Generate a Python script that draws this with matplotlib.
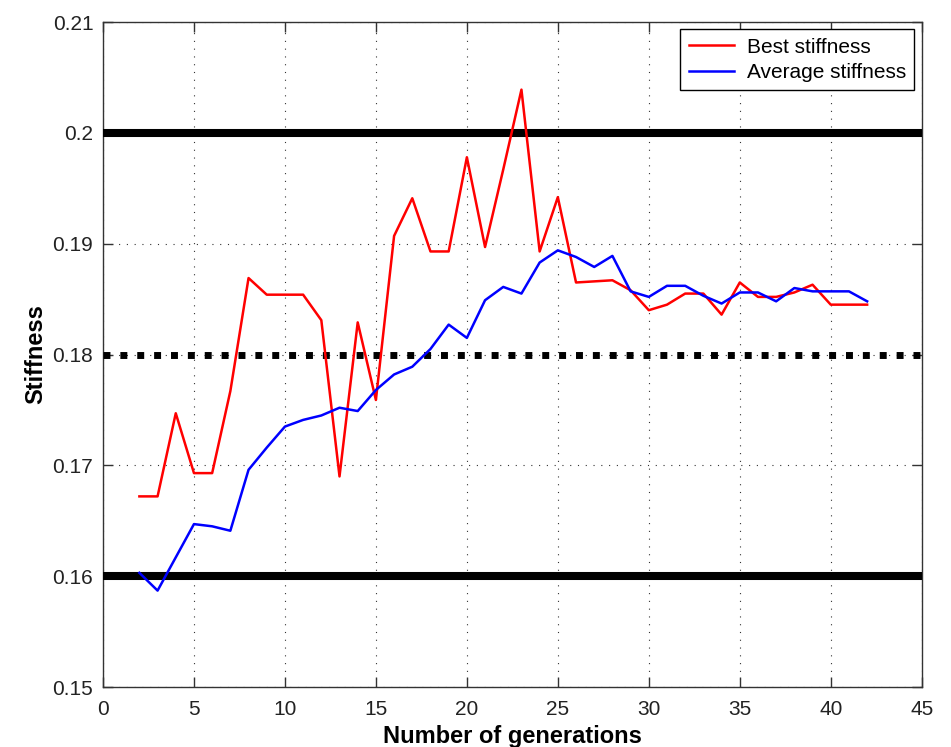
import matplotlib
matplotlib.use("Agg")
import matplotlib.pyplot as plt
from matplotlib.ticker import FuncFormatter

plt.rcParams["font.family"] = ["Liberation Sans", "DejaVu Sans"]

generations = list(range(2, 43))
best_stiffness = [
    0.1672, 0.1672, 0.1747, 0.1693, 0.1693, 0.1767, 0.1869, 0.1854, 0.1854, 0.1854,
    0.1831, 0.1690, 0.1829, 0.1759, 0.1907, 0.1941, 0.1893, 0.1893, 0.1978, 0.1897,
    0.1967, 0.2039, 0.1893, 0.1942, 0.1865, 0.1866, 0.1867, 0.1858, 0.1840, 0.1845,
    0.1855, 0.1855, 0.1836, 0.1865, 0.1852, 0.1852, 0.1856, 0.1863, 0.1845, 0.1845,
    0.1845,
]
avg_stiffness = [
    0.1603, 0.1587, 0.1617, 0.1647, 0.1645, 0.1641, 0.1696, 0.1716, 0.1735, 0.1741,
    0.1745, 0.1752, 0.1749, 0.1768, 0.1782, 0.1789, 0.1805, 0.1827, 0.1815, 0.1849,
    0.1861, 0.1855, 0.1883, 0.1894, 0.1888, 0.1879, 0.1889, 0.1857, 0.1852, 0.1862,
    0.1862, 0.1853, 0.1846, 0.1856, 0.1856, 0.1848, 0.1860, 0.1857, 0.1857, 0.1857,
    0.1848,
]
upper_limit = 0.20
target = 0.18
lower_limit = 0.16

fig = plt.figure(figsize=(9.51, 7.47), dpi=100)
ax = fig.add_axes([0.1083, 0.0803, 0.8609, 0.8902])

# limit lines
ax.plot([0, 45], [upper_limit, upper_limit], color="black", linewidth=5.8,
        solid_capstyle="butt", zorder=3)
ax.plot([0, 45], [lower_limit, lower_limit], color="black", linewidth=5.8,
        solid_capstyle="butt", zorder=3)
ax.plot([0, 45], [target, target], color="black", linewidth=5.0,
        linestyle=(0, (1, 1.43)), dash_capstyle="butt", zorder=3)

ax.plot(generations, best_stiffness, color="red", linewidth=1.8,
        label="Best stiffness", zorder=4)
ax.plot(generations, avg_stiffness, color="blue", linewidth=1.8,
        label="Average stiffness", zorder=4)

ax.set_xlim(0, 45)
ax.set_ylim(0.15, 0.21)
ax.set_xticks(range(0, 46, 5))
ax.set_yticks([0.15, 0.16, 0.17, 0.18, 0.19, 0.20, 0.21])
ax.yaxis.set_major_formatter(FuncFormatter(lambda v, p: f"{v:g}"))

ax.grid(True, color="#333333", linewidth=0.8, linestyle=(0, (1, 6)))
ax.tick_params(direction="in", length=7, width=1, top=True, right=True,
               labelsize=15, color="#333333", labelcolor="#222222")
ax.tick_params(axis="y", pad=7)
ax.tick_params(axis="x", pad=9)
for s in ax.spines.values():
    s.set_color("#333333")
    s.set_linewidth(1.0)

ax.set_xlabel("Number of generations", fontsize=17, fontweight="bold", labelpad=5)
ax.set_ylabel("Stiffness", fontsize=17, fontweight="bold", labelpad=4)

leg = ax.legend(loc="upper right", fontsize=15, fancybox=False, framealpha=1,
                edgecolor="black", handlelength=2.2, handletextpad=0.6,
                borderpad=0.4, labelspacing=0.3, borderaxespad=0.35)
leg.get_frame().set_linewidth(1.0)

fig.savefig("out.png", dpi=100)
